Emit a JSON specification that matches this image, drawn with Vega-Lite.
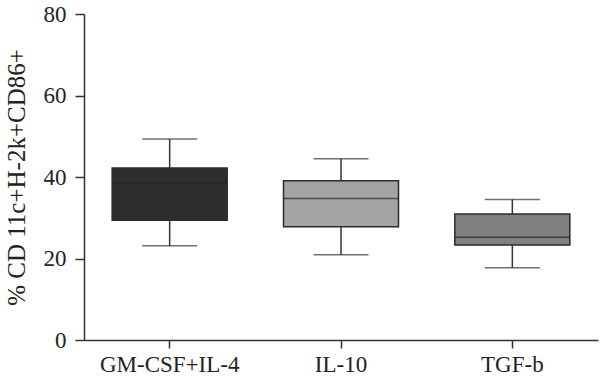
{
  "$schema": "https://vega.github.io/schema/vega-lite/v6.json",
  "autosize": "none",
  "width": 514,
  "height": 326,
  "padding": {"left": 84, "top": 14, "right": 2, "bottom": 47},
  "background": "white",
  "config": {
    "view": {"stroke": null},
    "font": "Liberation Serif",
    "axis": {"grid": false, "domainColor": "#333333", "domainWidth": 1.5, "tickColor": "#333333", "tickWidth": 1.5, "tickSize": 9, "labelFont": "Liberation Serif", "titleFont": "Liberation Serif", "labelColor": "#222222", "titleColor": "#222222", "labelFontSize": 23, "titleFontSize": 25, "titleFontWeight": "normal"}
  },
  "data": {"values": [
    {"group": "GM-CSF+IL-4", "lower": 23.1, "q1": 29.4, "median": 38.6, "q3": 42.2, "upper": 49.3},
    {"group": "IL-10", "lower": 20.9, "q1": 27.8, "median": 34.7, "q3": 39.1, "upper": 44.5},
    {"group": "TGF-b", "lower": 17.7, "q1": 23.3, "median": 25.2, "q3": 30.9, "upper": 34.5}
  ]},
  "encoding": {
    "x": {"field": "group", "type": "nominal", "sort": null, "scale": {"paddingInner": 0, "paddingOuter": 0}, "axis": {"title": null, "labelAngle": 0, "labelPadding": 5, "tickSize": 8}}
  },
  "layer": [
    {
      "mark": {"type": "rule", "color": "#333333", "strokeWidth": 1.5},
      "encoding": {
        "y": {"field": "lower", "type": "quantitative", "scale": {"domain": [0, 80]}, "axis": {"title": "% CD 11c+H-2k+CD86+", "values": [0, 20, 40, 60, 80], "labelPadding": 9, "titlePadding": 14}},
        "y2": {"field": "upper"}
      }
    },
    {
      "mark": {"type": "tick", "color": "#333333", "size": 55, "thickness": 1.5},
      "encoding": {"y": {"field": "lower", "type": "quantitative"}}
    },
    {
      "mark": {"type": "tick", "color": "#333333", "size": 55, "thickness": 1.5},
      "encoding": {"y": {"field": "upper", "type": "quantitative"}}
    },
    {
      "mark": {"type": "bar", "size": 115, "stroke": "#2a2a2a", "strokeWidth": 1.5},
      "encoding": {
        "y": {"field": "q1", "type": "quantitative"},
        "y2": {"field": "q3"},
        "fill": {"field": "group", "type": "nominal", "scale": {"domain": ["GM-CSF+IL-4", "IL-10", "TGF-b"], "range": ["#2e2e2e", "#a3a4a6", "#808080"]}, "legend": null}
      }
    },
    {
      "mark": {"type": "tick", "color": "#222222", "size": 115, "thickness": 1.5},
      "encoding": {"y": {"field": "median", "type": "quantitative"}}
    }
  ]
}
